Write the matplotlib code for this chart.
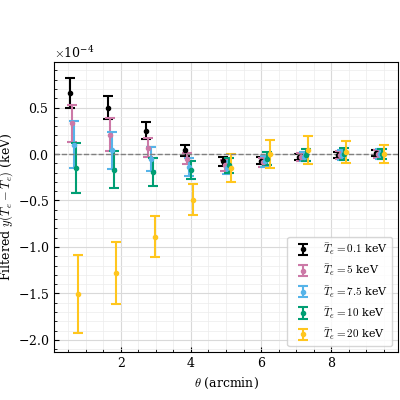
import numpy as np
import matplotlib
matplotlib.use("Agg")
import matplotlib.pyplot as plt

plt.rcParams["font.family"] = "DejaVu Serif"
plt.rcParams["mathtext.fontset"] = "cm"
plt.rcParams["font.size"] = 9

theta = np.array([0.55, 1.64, 2.73, 3.82, 4.91, 6.0, 7.09, 8.18, 9.27])
labels = [r"$\bar{T}_e = 0.1$ keV", r"$\bar{T}_e = 5$ keV", r"$\bar{T}_e = 7.5$ keV",
          r"$\bar{T}_e = 10$ keV", r"$\bar{T}_e = 20$ keV"]
colors = ["black", "#CC79A7", "#56B4E9", "#009E73", "#FFC61E"]

# values in units of 1e-4 keV
y_vals = [
    [0.66, 0.50, 0.25, 0.04, -0.08, -0.07, -0.03, -0.01, 0.01],
    [0.33, 0.21, 0.07, -0.05, -0.12, -0.09, -0.03, -0.01, 0.0],
    [0.10, 0.04, -0.05, -0.14, -0.15, -0.08, -0.03, -0.01, 0.0],
    [-0.15, -0.17, -0.19, -0.17, -0.12, -0.05, -0.01, 0.0, 0.0],
    [-1.51, -1.28, -0.89, -0.49, -0.15, 0.0, 0.04, 0.02, 0.0],
]
y_errs = [
    [0.16, 0.12, 0.09, 0.06, 0.05, 0.04, 0.03, 0.03, 0.03],
    [0.20, 0.18, 0.10, 0.06, 0.06, 0.05, 0.04, 0.04, 0.04],
    [0.25, 0.20, 0.13, 0.10, 0.07, 0.06, 0.05, 0.05, 0.05],
    [0.27, 0.20, 0.15, 0.10, 0.08, 0.07, 0.06, 0.06, 0.05],
    [0.42, 0.33, 0.22, 0.17, 0.15, 0.15, 0.15, 0.12, 0.10],
]
offsets = [0.0, 0.06, 0.12, 0.18, 0.24]

fig, ax = plt.subplots(figsize=(4, 4), dpi=100)
for i in range(5):
    ax.errorbar(theta + offsets[i], np.array(y_vals[i]) * 1e-4, yerr=np.array(y_errs[i]) * 1e-4,
                fmt="o", ms=3, color=colors[i], capsize=3.5, elinewidth=1.5, capthick=1.5,
                label=labels[i])
ax.axhline(0, color="gray", ls="--", lw=1)
ax.set_xlim(0.1, 9.9)
ax.set_ylim(-2.13e-4, 0.99e-4)
ax.set_xticks([2, 4, 6, 8])
ax.minorticks_on()
ax.tick_params(which="both", direction="in")
ax.grid(which="major", color="#d9d9d9", lw=0.8)
ax.grid(which="minor", color="#ececec", lw=0.5)
ax.set_xlabel(r"$\theta$ (arcmin)")
ax.set_ylabel(r"Filtered $y(\bar{T}_e - \bar{T}_e)$ (keV)", labelpad=2)
ax.ticklabel_format(axis="y", style="sci", scilimits=(-4, -4), useMathText=True)
ax.legend(loc="lower right", fontsize=8)
fig.subplots_adjust(left=0.135, right=0.995, top=0.845, bottom=0.12)
fig.savefig("out.png")
